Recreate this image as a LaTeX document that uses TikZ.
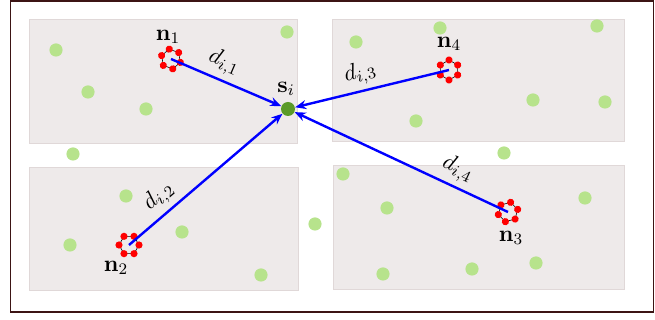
\RequirePackage{fix-cm}
\documentclass[tikz,border=0pt]{standalone}
\usetikzlibrary{arrows.meta}
\definecolor{boxfill}{HTML}{EEEAEA}
\definecolor{boxline}{HTML}{E0D8D8}
\definecolor{lgreen}{HTML}{B7E38C}
\definecolor{dgreen}{HTML}{5A9A28}
\definecolor{framecol}{HTML}{3C1414}
\tikzset{
  cluster/.pic={
    \draw[black,line width=0.3pt] (0:10) -- (60:10) -- (120:10) -- (180:10) -- (240:10) -- (300:10) -- cycle;
    \foreach \a in {0,60,...,300} \fill[red] (\a:10) circle[radius=3.6];
  }
}
\begin{document}
\begin{tikzpicture}[x=0.5pt,y=-0.5pt,
  region/.style={fill=boxfill,draw=boxline,line width=0.4pt},
  user/.style={circle,fill=lgreen,inner sep=0pt,minimum size=6.6pt},
  sink/.style={circle,fill=dgreen,inner sep=0pt,minimum size=7pt},
  conn/.style={blue,line width=1.2pt,-{Stealth[length=5.5pt,width=4.5pt]}},
  lab/.style={text=black,font=\fontsize{11.5}{13}\selectfont,inner sep=1.5pt},
  dlab/.style={lab,sloped,above,inner sep=2.5pt},
]
\useasboundingbox (0,0) rectangle (655,320);
\draw[framecol,line width=0.6pt] (10.5,1) rectangle (653.5,312);
% regions
\draw[region] (29,19) rectangle (297,143);
\draw[region] (332,19) rectangle (624,141);
\draw[region] (29,167) rectangle (298,290);
\draw[region] (333,165) rectangle (624,289);
% users
\foreach \p [count=\k] in {(56,50),(88,92),(146,109),(287,32),(73,154),(126,196),(182,232),(70,245),(261,275),(315,224),
  (356,42),(440,28),(597,26),(533,100),(605,102),(416,121),(504,153),(343,174),(387,208),(585,198),(383,274),(472,269),(536,263)}
  \node[user] (u\k) at \p {};
% sink
\node[sink] (s) at (288,109) {};
\node[lab] (slab) at (286,89) {$\mathbf{s}_i$};
% clusters
\coordinate (n1) at (171,59);
\coordinate (n2) at (129,245);
\coordinate (n3) at (508,212);
\coordinate (n4) at (449,70);
\pic[rotate=-20] at (n1) {cluster};
\pic at (n2) {cluster};
\pic[rotate=15] at (n3) {cluster};
\pic[rotate=30] at (n4) {cluster};
\node[lab] (n1lab) at (168,37) {$\mathbf{n}_1$};
\node[lab] (n2lab) at (116,268) {$\mathbf{n}_2$};
\node[lab] (n3lab) at (511,238) {$\mathbf{n}_3$};
\node[lab] (n4lab) at (449,44) {$\mathbf{n}_4$};
% links
\draw[conn] (n1) -- (s) node[dlab,pos=0.42] {$d_{i,1}$};
\draw[conn] (n2) -- (s) node[dlab,pos=0.27] {$d_{i,2}$};
\draw[conn] (n4) -- (s) node[dlab,pos=0.55] {$d_{i,3}$};
\draw[conn] (n3) -- (s) node[dlab,pos=0.27] {$d_{i,4}$};
\end{tikzpicture}
\end{document}
